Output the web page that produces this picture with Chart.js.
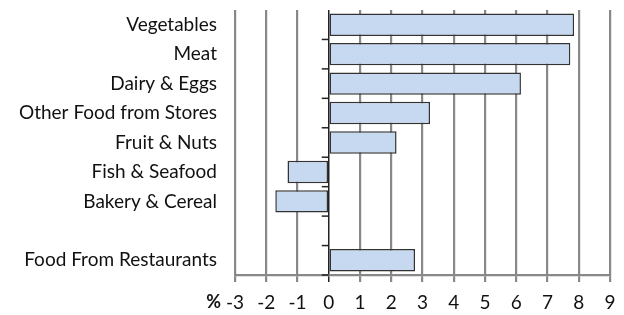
<!DOCTYPE html>
<html>
<head>
<meta charset="utf-8">
<script src="https://cdn.jsdelivr.net/npm/chart.js@4"></script>
<style>
  html, body { margin: 0; padding: 0; background: #fff; }
  #wrap { width: 624px; height: 315px; }
</style>
</head>
<body>
<div id="wrap"><canvas id="chart"></canvas></div>
<script>
const categories = ['Vegetables', 'Meat', 'Dairy & Eggs', 'Other Food from Stores', 'Fruit & Nuts',
  'Fish & Seafood', 'Bakery & Cereal', '', 'Food From Restaurants'];
const changes = [7.85, 7.73, 6.15, 3.24, 2.17, -1.32, -1.71, null, 2.76];
const xTicks = [-3, -2, -1, 0, 1, 2, 3, 4, 5, 6, 7, 8, 9];

const FONT = 'Lato, "Open Sans", sans-serif';

// small ticks on the zero line + the "%" unit label
const extras = {
  id: 'extras',
  afterDatasetsDraw(c) {
    const ctx = c.ctx, x = c.scales.x, y = c.scales.y;
    const x0 = x.getPixelForValue(0);
    const step = y.getPixelForValue(1) - y.getPixelForValue(0);
    ctx.save();
    ctx.strokeStyle = '#222';
    ctx.lineWidth = 1.5;
    for (let i = 0; i < categories.length; i++) {
      const py = y.getPixelForValue(i) + step / 2;
      ctx.beginPath();
      ctx.moveTo(x0 - 7, py);
      ctx.lineTo(x0, py);
      ctx.stroke();
    }
    ctx.fillStyle = '#111';
    ctx.font = 'bold 18px ' + FONT;
    ctx.textAlign = 'right';
    ctx.textBaseline = 'middle';
    ctx.fillText('%', x.getPixelForValue(-3) - 14, 302);
    ctx.restore();
  }
};

new Chart('chart', {
  type: 'bar',
  data: {
    labels: categories,
    datasets: [{
      data: changes,
      backgroundColor: '#C6D9F1',
      borderColor: '#333',
      borderWidth: 1.5,
      borderSkipped: false,
      categoryPercentage: 0.76,
      barPercentage: 1
    }]
  },
  options: {
    indexAxis: 'y',
    responsive: true,
    maintainAspectRatio: false,
    animation: false,
    layout: { padding: { top: 10, right: 14, left: 0, bottom: 0 } },
    plugins: { legend: { display: false }, tooltip: { enabled: false } },
    scales: {
      x: {
        min: -3,
        max: 9,
        afterBuildTicks: s => { s.ticks = xTicks.map(v => ({ value: v })); },
        afterFit: s => { s.height = 40; s.paddingLeft = 0; s.paddingRight = 0; },
        grid: {
          color: ctx => ctx.tick && ctx.tick.value === 0 ? '#222' : '#888',
          lineWidth: ctx => ctx.tick && ctx.tick.value === 0 ? 1.5 : 2.2,
          tickLength: 7
        },
        border: { color: '#888', width: 2.2 },
        ticks: { color: '#111', font: { family: FONT, size: 19 }, padding: 9, maxRotation: 0 }
      },
      y: {
        afterFit: s => { s.width = 235; s.paddingTop = 0; s.paddingBottom = 0; },
        grid: { display: false },
        border: { display: false },
        ticks: { color: '#111', font: { family: FONT, size: 19 }, padding: 10, autoSkip: false }
      }
    }
  },
  plugins: [extras]
});
</script>
</body>
</html>
